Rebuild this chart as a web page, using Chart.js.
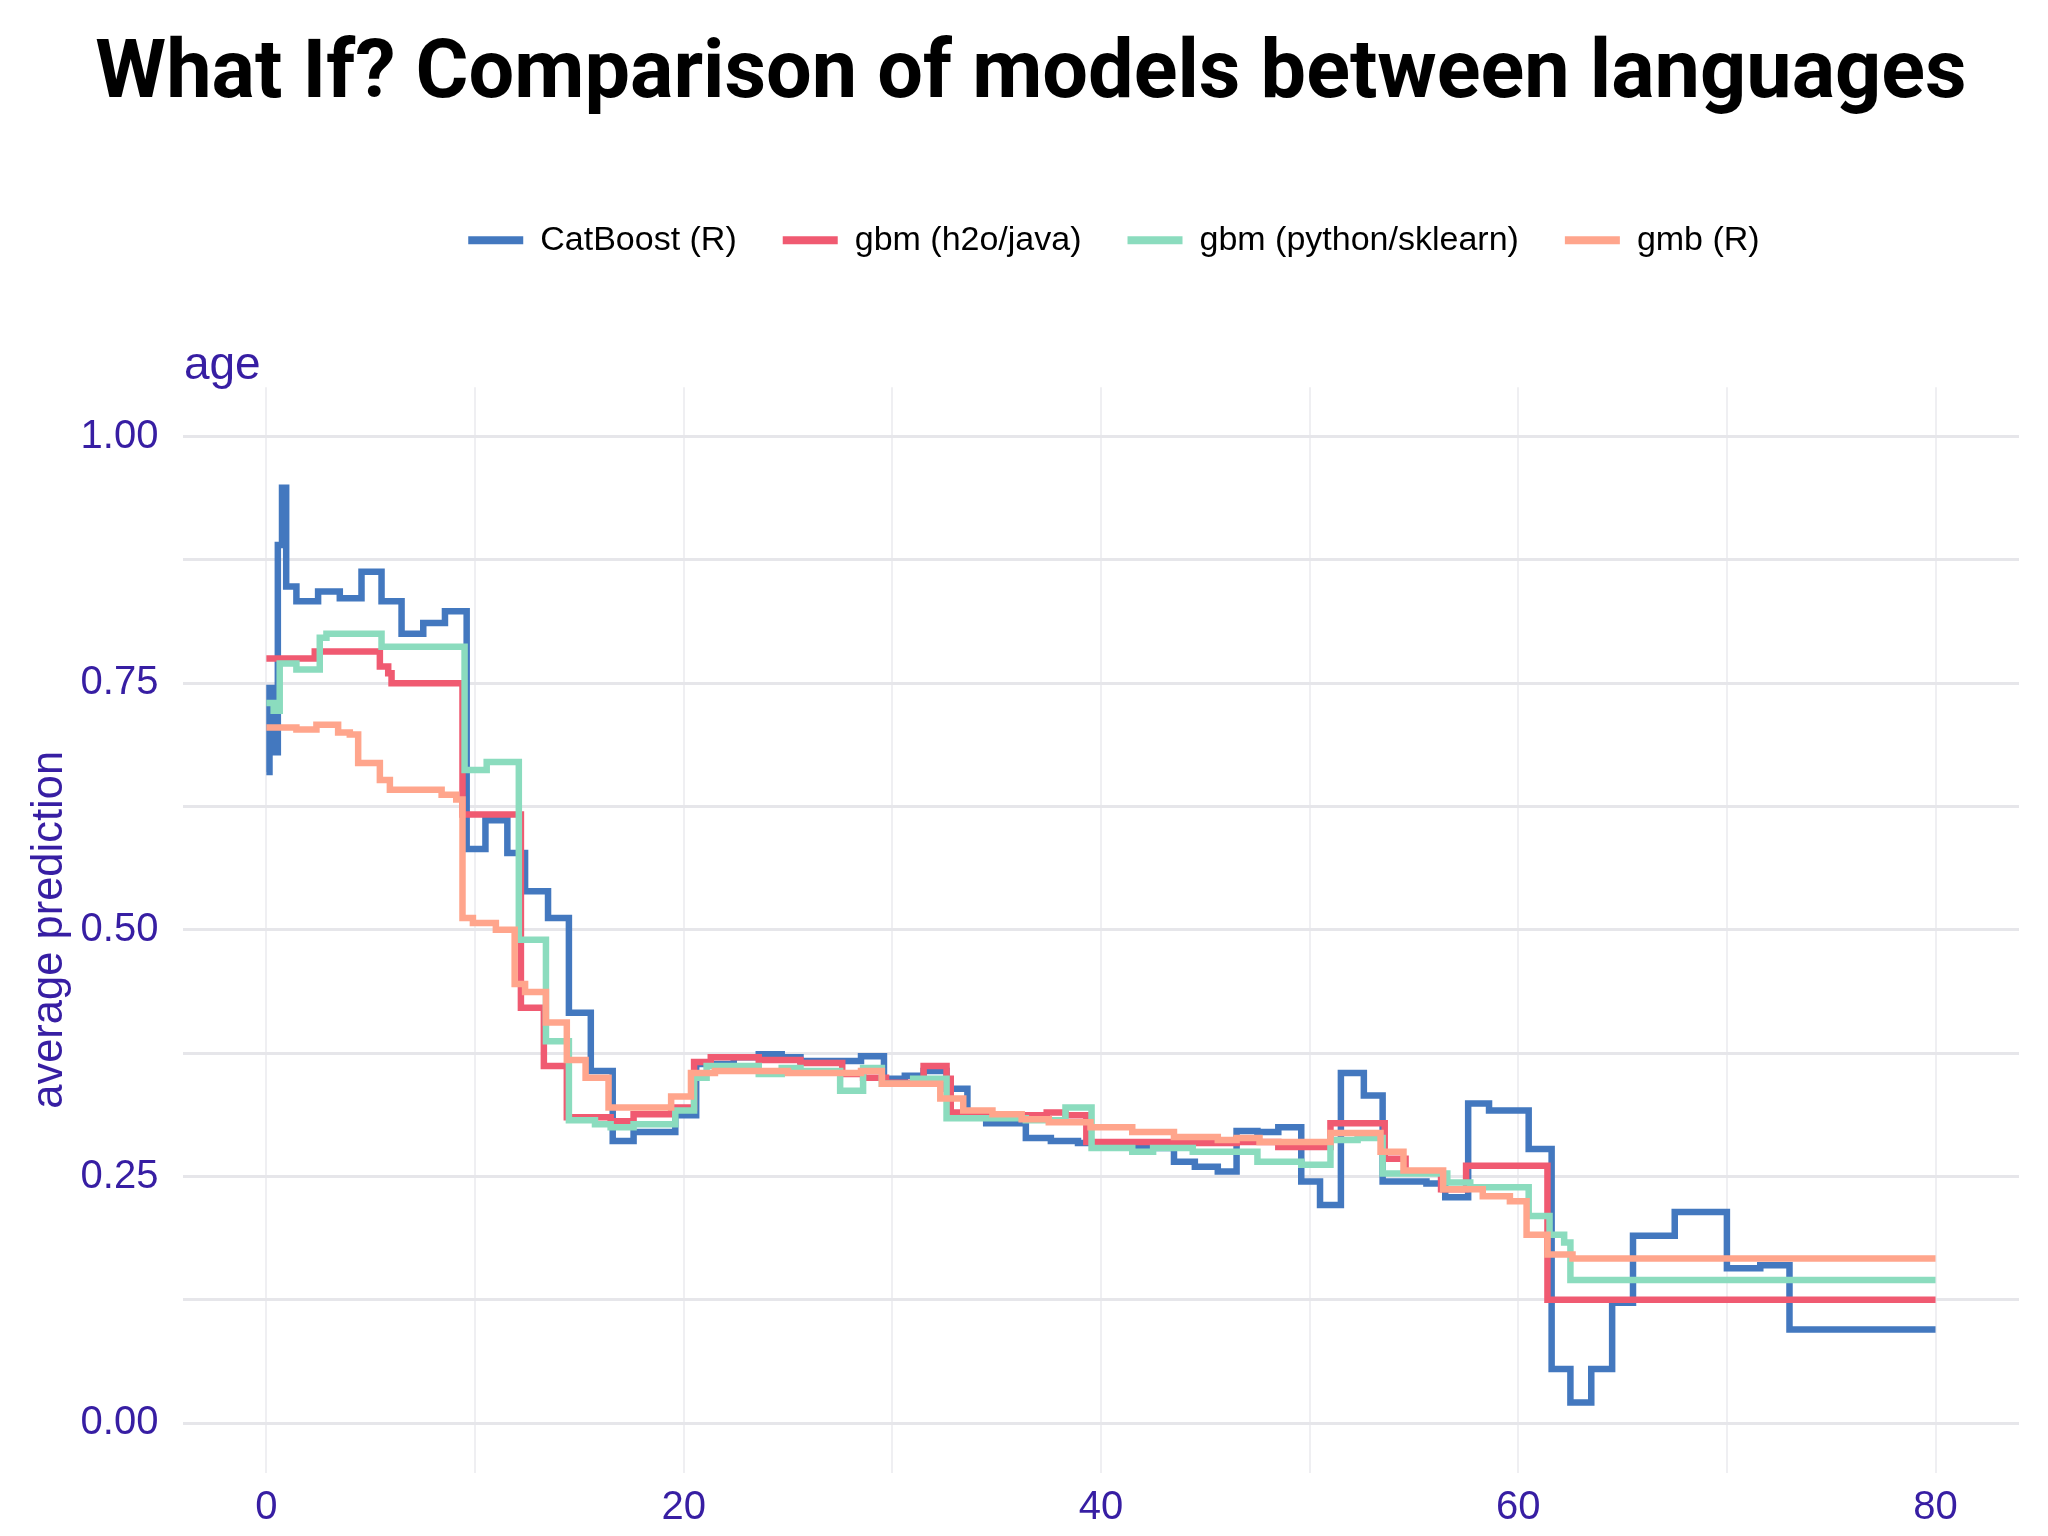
<!DOCTYPE html>
<html>
<head>
<meta charset="utf-8">
<title>What If? Comparison of models between languages</title>
<script src="https://cdn.jsdelivr.net/npm/chart.js@4.4.1/dist/chart.umd.min.js"></script>
<style>
  html, body { margin: 0; padding: 0; background: #ffffff; }
  #wrap { width: 2048px; height: 1536px; }
</style>
</head>
<body>
<div id="wrap"><canvas id="whatIfChart"></canvas></div>
<script>
// axis ticks
const ageTicks = [0, 10, 20, 30, 40, 50, 60, 70, 80];
const ageLabels = [0, 20, 40, 60, 80];
const predTicks = [0, 0.125, 0.25, 0.375, 0.5, 0.625, 0.75, 0.875, 1];
const predLabels = [0, 0.25, 0.5, 0.75, 1];

// CatBoost (R): step breakpoints (age where a level starts, prediction)
const catboostAge = [0, 0.15, 0.35, 0.55, 0.75, 0.95, 1.44, 2.48, 3.52, 4.56, 5.52, 6.48, 7.52, 8.56,
  9.6, 10.5, 11.55, 12.4, 13.5, 14.5, 15.55, 16.6, 17.6, 19.6, 20.6, 22.4, 23.6, 24.7, 25.6, 28.5,
  29.6, 30.6, 31.5, 32.6, 33.6, 34.5, 36.4, 37.6, 38.9, 40.4, 41.5, 43.5, 44.5, 45.6, 46.5, 47.5,
  48.5, 49.6, 50.5, 51.5, 52.6, 53.5, 55.6, 56.5, 57.6, 58.6, 60.5, 61.6, 62.5, 63.5, 64.5, 65.5,
  67.5, 70, 71.6, 73, 80];
const catboostPred = [0.66, 0.745, 0.68, 0.89, 0.948, 0.848, 0.833, 0.843, 0.836, 0.863, 0.833, 0.80, 0.811, 0.823,
  0.582, 0.611, 0.578, 0.539, 0.512, 0.416, 0.357, 0.286, 0.295, 0.312, 0.364, 0.371, 0.374, 0.371, 0.367, 0.372,
  0.349, 0.352, 0.357, 0.339, 0.315, 0.304, 0.289, 0.286, 0.284, 0.282, 0.279, 0.265, 0.26, 0.255, 0.296, 0.295,
  0.30, 0.245, 0.221, 0.355, 0.332, 0.245, 0.243, 0.229, 0.324, 0.317, 0.278, 0.055, 0.021, 0.055, 0.122, 0.19,
  0.214, 0.157, 0.16, 0.095, 0.095];

// gbm (h2o/java)
const h2oAge = [0, 2.32, 5.44, 5.84, 6.0, 9.4, 12.2, 13.3, 14.4, 16.5, 17.6, 19.4, 20.5, 21.3, 23.6, 25.6,
  27.6, 28.6, 29.7, 31.5, 32.6, 32.8, 34.5, 37.4, 38.3, 39.3, 43.3, 46.5, 48.5, 51, 53.6, 54.6, 56.3,
  57.5, 61.4, 80];
const h2oPred = [0.775, 0.782, 0.767, 0.76, 0.75, 0.617, 0.421, 0.362, 0.31, 0.306, 0.313, 0.32, 0.366, 0.371, 0.368, 0.365,
  0.354, 0.35, 0.345, 0.362, 0.349, 0.315, 0.312, 0.315, 0.312, 0.285, 0.284, 0.285, 0.28, 0.304, 0.268, 0.255, 0.237,
  0.261, 0.125, 0.125];

// gbm (python/sklearn)
const sklearnAge = [0, 0.35, 0.64, 1.44, 2.56, 2.88, 5.52, 9.5, 10.56, 12.1, 13.4, 14.5, 15.75, 16.5, 17.6,
  19.6, 20.5, 21.1, 23.6, 24.7, 25.6, 27.5, 28.6, 29.5, 31, 32.6, 36.4, 38.3, 39.55, 41.5, 42.5, 44.4,
  47.5, 49.6, 51, 52.3, 53.5, 56.6, 57.7, 60.5, 61.5, 62.2, 62.5, 80];
const sklearnPred = [0.73, 0.722, 0.77, 0.764, 0.796, 0.80, 0.787, 0.662, 0.67, 0.49, 0.387, 0.307, 0.303, 0.30, 0.303,
  0.317, 0.35, 0.362, 0.354, 0.36, 0.357, 0.337, 0.36, 0.344, 0.349, 0.309, 0.307, 0.32, 0.279, 0.275, 0.279, 0.275,
  0.265, 0.262, 0.287, 0.289, 0.253, 0.244, 0.239, 0.21, 0.191, 0.183, 0.145, 0.145];

// gmb (R)
const gmbAge = [0, 1.44, 2.4, 3.44, 4.0, 4.4, 5.44, 5.92, 8.4, 9.1, 9.4, 9.9, 11, 11.9, 12.4, 13.4, 14.4,
  15.3, 16.4, 19.4, 20.35, 21.5, 25, 28.5, 29.5, 32.3, 33.4, 34.8, 36.2, 37.5, 39.5, 41.5, 43.5, 45.6,
  46.5, 47.6, 51, 53.4, 54.5, 56.4, 58.3, 59.6, 60.4, 61.4, 62.6, 80];
const gmbPred = [0.705, 0.703, 0.708, 0.70, 0.698, 0.669, 0.652, 0.642, 0.637, 0.632, 0.512, 0.507, 0.50, 0.445, 0.437, 0.406, 0.368,
  0.35, 0.32, 0.331, 0.355, 0.357, 0.355, 0.357, 0.344, 0.329, 0.317, 0.313, 0.308, 0.305, 0.30, 0.295, 0.29, 0.287,
  0.289, 0.285, 0.294, 0.275, 0.256, 0.237, 0.23, 0.225, 0.191, 0.171, 0.167, 0.167];

const purple = '#371ea3';

function toPoints(xs, ys) {
  return xs.map((x, i) => ({ x: x, y: ys[i] }));
}

function series(label, xs, ys, color, order) {
  return {
    label: label,
    data: toPoints(xs, ys),
    borderColor: color,
    backgroundColor: color,
    borderWidth: 6.5,
    pointRadius: 0,
    stepped: true,
    order: order
  };
}

// 图例下方留出空间, 并稍微右移
const legendSpace = {
  id: 'legendSpace',
  beforeInit(chart) {
    const legend = chart.legend;
    const fit = legend.fit;
    const draw = legend.draw;
    legend.fit = function() {
      fit.call(legend);
      this.height = 210;
    };
    legend.draw = function() {
      const ctx = chart.ctx;
      ctx.save();
      ctx.translate(13, 0);
      draw.call(legend);
      ctx.restore();
    };
  }
};

// 面板标题 "age"
const panelTitle = {
  id: 'panelTitle',
  afterDraw(chart) {
    const ctx = chart.ctx;
    ctx.save();
    ctx.font = '46px "Liberation Sans"';
    ctx.fillStyle = purple;
    ctx.textAlign = 'left';
    ctx.textBaseline = 'alphabetic';
    ctx.fillText('age', chart.chartArea.left + 1, 379);
    ctx.restore();
  }
};

Chart.defaults.font.family = '"Liberation Sans", Arial, sans-serif';

new Chart(document.getElementById('whatIfChart'), {
  type: 'line',
  data: {
    datasets: [
      series('CatBoost (R)', catboostAge, catboostPred, '#4378bf', 4),
      series('gbm (h2o/java)', h2oAge, h2oPred, '#f05a71', 3),
      series('gbm (python/sklearn)', sklearnAge, sklearnPred, '#8bdcbe', 2),
      series('gmb (R)', gmbAge, gmbPred, '#ffa58c', 1)
    ]
  },
  options: {
    responsive: true,
    maintainAspectRatio: false,
    devicePixelRatio: 1,
    animation: false,
    layout: { padding: { top: 0, right: 29, bottom: -7.5, left: 43 } },
    plugins: {
      title: {
        display: true,
        text: 'What If? Comparison of models between languages',
        color: '#000000',
        font: { family: 'Roboto', weight: 'bold', size: 81, lineHeight: 1.2 },
        padding: { top: 28, bottom: 52 }
      },
      legend: {
        display: true,
        position: 'top',
        fullSize: false,
        labels: {
          color: '#000000',
          font: { size: 34 },
          boxWidth: 55,
          boxHeight: 8,
          padding: 46,
          generateLabels(chart) {
            const items = Chart.defaults.plugins.legend.labels.generateLabels(chart);
            items.forEach(item => { item.lineWidth = 0; });
            return items.sort((a, b) => a.datasetIndex - b.datasetIndex);
          }
        }
      },
      tooltip: { enabled: false }
    },
    scales: {
      x: {
        type: 'linear',
        min: -4,
        max: 84,
        afterBuildTicks(scale) {
          scale.ticks = ageTicks.map(v => ({ value: v }));
        },
        border: { display: false },
        grid: { color: '#efeff2', lineWidth: 2, drawTicks: false },
        ticks: {
          color: purple,
          font: { size: 40, lineHeight: 0.975 },
          padding: 16,
          autoSkip: false,
          maxRotation: 0,
          callback: value => ageLabels.includes(value) ? String(value) : ''
        }
      },
      y: {
        type: 'linear',
        min: -0.05,
        max: 1.05,
        afterBuildTicks(scale) {
          scale.ticks = predTicks.map(v => ({ value: v }));
        },
        border: { display: false },
        grid: { color: '#e6e6ea', lineWidth: 3, drawTicks: false },
        title: {
          display: true,
          text: 'average prediction',
          color: purple,
          font: { size: 43.5, lineHeight: 0.3 },
          padding: { top: 0, bottom: 0 }
        },
        ticks: {
          color: purple,
          font: { size: 40 },
          padding: 24.5,
          autoSkip: false,
          callback: value => predLabels.includes(value) ? value.toFixed(2) : ''
        }
      }
    }
  },
  plugins: [legendSpace, panelTitle]
});
</script>
</body>
</html>
